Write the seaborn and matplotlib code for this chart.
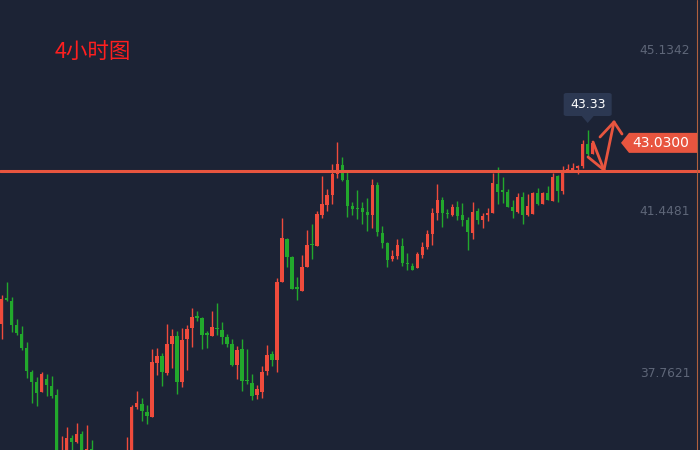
import matplotlib
matplotlib.use("Agg")
import matplotlib.pyplot as plt
import seaborn as sns
import pandas as pd
from matplotlib.patches import Polygon, FancyBboxPatch

# 4h candles (red = up, green = down)
opens = [38.89, 39.48, 39.41, 38.86, 38.66, 38.34, 37.79, 37.56, 37.33, 37.63,
         37.47, 37.26, 35.60, 35.90, 36.28, 36.19, 36.37, 35.90, 36.03, 35.80,
         35.55, 35.40, 35.65, 35.45, 35.70, 35.60, 35.90, 36.99, 37.05, 36.87,
         36.76, 37.99, 38.15, 37.76, 38.43, 38.61, 37.56, 38.54, 38.79, 39.07,
         39.02, 38.66, 38.61, 38.79, 38.75, 38.59, 38.43, 37.95, 38.31, 37.60,
         37.54, 37.26, 37.33, 37.81, 38.20, 38.06, 39.85, 40.83, 40.42, 39.71,
         39.64, 40.19, 40.72, 40.67, 41.38, 41.61, 41.84, 42.32, 42.53, 42.18,
         41.59, 41.54, 41.54, 41.45, 41.38, 42.07, 40.97, 40.74, 40.37, 40.44,
         40.67, 40.28, 40.21, 40.17, 40.47, 40.65, 40.95, 41.43, 41.72, 41.43,
         41.38, 41.56, 41.38, 41.26, 40.97, 41.47, 41.26, 41.38, 41.43, 42.09,
         41.93, 41.91, 41.56, 41.45, 41.79, 41.38, 41.40, 41.88, 41.63, 41.88,
         41.70, 42.27, 41.93, 42.41, 42.41, 42.46, 42.50, 43.01, 42.78]
highs = [39.55, 39.85, 39.50, 39.00, 38.84, 38.48, 37.83, 37.67, 37.79, 37.74,
         37.70, 37.40, 36.32, 36.52, 36.35, 36.62, 36.44, 36.57, 36.23, 35.90,
         35.70, 35.75, 35.85, 35.80, 35.90, 36.30, 37.03, 37.35, 37.19, 37.03,
         38.31, 38.34, 38.22, 38.89, 38.77, 38.73, 38.79, 38.86, 39.25, 39.18,
         39.05, 38.73, 39.18, 39.37, 38.93, 38.66, 38.54, 38.38, 38.54, 38.31,
         37.74, 37.49, 37.92, 38.41, 38.27, 39.94, 41.31, 40.85, 40.44, 39.96,
         40.47, 41.04, 41.17, 41.47, 42.27, 41.98, 42.55, 43.05, 42.71, 42.41,
         41.68, 41.95, 41.68, 41.77, 42.20, 42.14, 41.13, 40.76, 40.58, 40.83,
         40.85, 40.51, 40.28, 40.53, 40.76, 41.04, 41.54, 42.09, 41.79, 41.52,
         41.63, 41.70, 41.65, 41.34, 41.68, 41.54, 41.43, 41.54, 42.34, 42.48,
         42.25, 41.98, 41.72, 41.88, 41.91, 41.86, 41.91, 42.00, 41.91, 42.04,
         42.34, 42.30, 42.50, 42.55, 42.57, 42.53, 43.10, 43.33, 43.08]
lows = [38.54, 39.41, 38.70, 38.64, 38.29, 37.65, 37.08, 37.01, 37.33, 37.24,
        37.19, 35.77, 35.50, 35.80, 35.96, 36.16, 35.77, 35.80, 35.70, 35.45,
        35.30, 35.25, 35.35, 35.30, 35.50, 35.50, 35.80, 36.94, 36.67, 36.60,
        36.76, 37.72, 37.47, 37.72, 37.88, 37.29, 37.44, 37.83, 38.36, 38.95,
        38.31, 38.34, 38.61, 38.64, 38.43, 38.36, 37.92, 37.63, 37.35, 37.51,
        37.15, 37.17, 37.19, 37.72, 37.92, 37.79, 39.85, 40.19, 39.69, 39.44,
        39.64, 40.19, 40.37, 40.67, 41.31, 41.47, 41.63, 42.23, 42.16, 41.34,
        41.38, 41.29, 41.17, 41.01, 41.08, 40.90, 40.63, 40.19, 40.33, 40.37,
        40.21, 40.12, 40.12, 40.17, 40.40, 40.60, 40.69, 41.26, 41.10, 41.31,
        41.36, 41.26, 41.13, 40.58, 40.83, 41.17, 41.08, 41.24, 41.43, 41.63,
        41.65, 41.56, 41.31, 41.43, 41.17, 41.36, 41.40, 41.61, 41.63, 41.72,
        41.70, 41.68, 41.86, 42.39, 42.39, 42.32, 42.46, 42.73, 42.78]
closes = [39.46, 39.44, 38.86, 38.68, 38.34, 37.81, 37.56, 37.31, 37.74, 37.49,
          37.24, 35.89, 35.90, 36.28, 36.19, 36.37, 35.89, 36.03, 35.80, 35.55,
          35.40, 35.65, 35.45, 35.70, 35.60, 35.90, 36.99, 37.08, 36.89, 36.78,
          38.02, 38.15, 37.79, 38.43, 38.61, 37.56, 38.52, 38.77, 39.05, 39.02,
          38.64, 38.64, 38.82, 38.77, 38.59, 38.43, 37.95, 38.29, 37.58, 37.58,
          37.24, 37.40, 37.79, 38.18, 38.06, 39.85, 40.85, 40.42, 39.69, 39.69,
          40.19, 40.69, 40.69, 41.40, 41.63, 41.84, 42.32, 42.55, 42.18, 41.59,
          41.52, 41.52, 41.45, 41.38, 42.07, 40.99, 40.74, 40.35, 40.44, 40.69,
          40.28, 40.26, 40.12, 40.49, 40.65, 40.95, 41.43, 41.72, 41.43, 41.40,
          41.56, 41.36, 41.26, 40.99, 41.45, 41.26, 41.36, 41.43, 42.11, 41.91,
          41.91, 41.56, 41.47, 41.79, 41.38, 41.59, 41.88, 41.63, 41.88, 41.72,
          42.25, 41.93, 42.34, 42.43, 42.46, 42.50, 43.01, 42.78, 43.03]

axis_ticks = [45.1342, 41.4481, 37.7621]
axis_labels = ["45.1342", "41.4481", "37.7621"]
resistance = 42.39
last_price = 43.03
peak_price = 43.33
title = "4小时图"

BG = "#1c2335"
UP = "#ef4b3c"
DOWN = "#22a82c"
MARK = "#e8553f"

sns.set_theme(style="dark", rc={"axes.facecolor": BG, "figure.facecolor": BG})
plt.rcParams["font.family"] = ["DejaVu Sans", "Noto Sans CJK SC"]

df = pd.DataFrame({"open": opens, "high": highs, "low": lows, "close": closes})
df["idx"] = range(len(df))
df["color"] = [UP if c >= o else DOWN for o, c in zip(df.open, df.close)]
df["bottom"] = df[["open", "close"]].min(axis=1)
df["body"] = (df.close - df.open).abs().clip(lower=0.03)

fig = plt.figure(figsize=(7, 4.5), dpi=100)
ax = fig.add_axes([0, 0, 1, 1])
ax.set_xlim(-0.3, 139.4)
ax.set_ylim(36.0, 46.30)

ax.vlines(df.idx, df.low, df.high, colors=df.color, linewidth=1.0, zorder=2)
ax.bar(df.idx, df.body, bottom=df.bottom, width=0.68, color=df.color,
       linewidth=0, zorder=3)

ax.axhline(resistance, color=MARK, linewidth=2.2, zorder=4)
ax.plot([0.996, 0.996], [0, 1], transform=ax.transAxes, color="#b0603e",
        linewidth=0.8, zorder=4)


def px(x, y):
    # pixel position -> axes fraction
    return x / 700, 1 - y / 450


def price_y(p):
    lo, hi = ax.get_ylim()
    return 450 * (hi - p) / (hi - lo)


# right axis labels
for t, lab in zip(axis_ticks, axis_labels):
    ax.text(0.986, t, lab, transform=ax.get_yaxis_transform(), ha="right",
            va="center", fontsize=8.8, color="#5e6678")

# last price tag
ty = price_y(last_price)
tag = Polygon([px(621, ty), px(629, ty - 10), px(697, ty - 10),
               px(697, ty + 10), px(629, ty + 10)], closed=True,
              transform=ax.transAxes, facecolor=MARK, edgecolor="none", zorder=6)
ax.add_patch(tag)
ax.text(*px(661, ty), f"{last_price:.4f}", transform=ax.transAxes, ha="center",
        va="center", fontsize=10, color="white", zorder=7)

# peak tooltip
hx = 1.5 + 5.01 * 117
box = FancyBboxPatch(px(hx - 24, 116), 48 / 700, 23 / 450,
                     boxstyle="round,pad=0,rounding_size=0.004",
                     transform=ax.transAxes, facecolor="#2c3852",
                     edgecolor="none", zorder=6)
ax.add_patch(box)
ax.add_patch(Polygon([px(hx - 6, 116), px(hx + 6, 116), px(hx, 123)],
                     transform=ax.transAxes, facecolor="#2c3852",
                     edgecolor="none", zorder=6))
ax.text(*px(hx, 104.5), f"{peak_price:.2f}", transform=ax.transAxes,
        ha="center", va="center", fontsize=9, color="white", zorder=7)

# hand-drawn zigzag arrow
strokes = [
    [(593, 142), (604, 170)],
    [(588, 157), (604, 170)],
    [(604, 170), (614, 122)],
    [(600, 137), (614, 122)],
    [(614, 122), (622, 134)],
]
for seg in strokes:
    xs, ys = zip(*[px(x, y) for x, y in seg])
    ax.plot(xs, ys, transform=ax.transAxes, color=MARK, linewidth=2.0,
            solid_capstyle="round", zorder=5)

ax.text(*px(55, 53), title, transform=ax.transAxes, ha="left", va="center",
        fontsize=15.5, color="#ff1f1f", family=["Noto Sans CJK SC", "DejaVu Sans"])

ax.set_xticks([])
ax.set_yticks([])
for s in ax.spines.values():
    s.set_visible(False)

fig.savefig("out.png", dpi=100, facecolor=BG)
